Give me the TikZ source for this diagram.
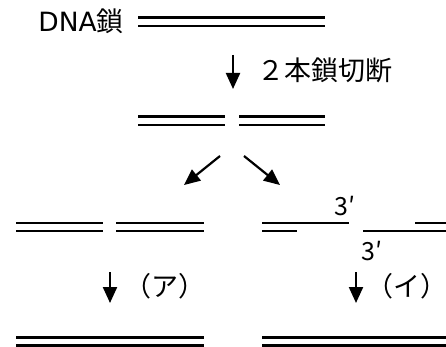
\documentclass[tikz,border=0pt]{standalone}
\usepackage{fontspec}
\setmainfont{Noto Sans CJK JP}
\newfontfamily\latinfont{DejaVu Sans}
\usetikzlibrary{arrows.meta}
\tikzset{
  strand/.style={line width=2.9pt},
  flow/.style={line width=2.2pt,-{Triangle[width=14pt,length=16pt]}},
  lbl/.style={inner sep=0pt,font=\fontsize{27}{27}\selectfont},
  prime/.style={inner sep=0pt,font=\fontsize{25}{25}\selectfont},
}
\begin{document}
\begin{tikzpicture}[x=1pt,y=-1pt]
\useasboundingbox (0,0) rectangle (446,347);
% row 1
\node[lbl,anchor=base east] (dna) at (124,32) {{\fontsize{26.5}{26.5}\selectfont\latinfont DNA}鎖};
\draw[strand] (138,17.5) -- (325,17.5);
\draw[strand] (138,26) -- (325,26);
% arrow 1
\coordinate (a1s) at (233,55);
\coordinate (a1e) at (233,89);
\draw[flow] (a1s) -- (a1e);
\node[lbl,anchor=base west] (cut) at (257,80.5) {２本鎖切断};
% row 2
\draw[strand] (138,116.7) -- (225,116.7);
\draw[strand] (138,125) -- (225,125);
\draw[strand] (239,116.7) -- (325,116.7);
\draw[strand] (239,125) -- (325,125);
% diagonal arrows
\coordinate (dls) at (220,156);
\coordinate (dle) at (184,185);
\coordinate (drs) at (244,156);
\coordinate (dre) at (280,185);
\draw[flow] (dls) -- (dle);
\draw[flow] (drs) -- (dre);
% row 3 left
\draw[strand] (16,223) -- (103,223);
\draw[strand] (16,231) -- (103,231);
\draw[strand] (116,223) -- (204,223);
\draw[strand] (116,231) -- (204,231);
% row 3 right
\draw[strand] (262,223) -- (349,223);
\draw[strand] (262,231) -- (297,231);
\draw[strand] (363,231) -- (446,231);
\draw[strand] (415,223) -- (446,223);
\node[prime,anchor=base west] (p1) at (334,215.5) {3′};
\node[prime,anchor=base west] (p2) at (361,260) {3′};
% row 4 arrows
\coordinate (als) at (110,272);
\coordinate (ale) at (110,303);
\coordinate (ars) at (356,272);
\coordinate (are) at (356,303);
\draw[flow] (als) -- (ale);
\draw[flow] (ars) -- (are);
\node[lbl,anchor=base] (ta) at (164.5,296) {（ア）};
\node[lbl,anchor=base] (ti) at (406.5,296) {（イ）};
% row 5
\draw[strand] (16,337.3) -- (204,337.3);
\draw[strand] (16,345.5) -- (204,345.5);
\draw[strand] (262,337.3) -- (446,337.3);
\draw[strand] (262,345.5) -- (446,345.5);
\end{tikzpicture}
\end{document}
